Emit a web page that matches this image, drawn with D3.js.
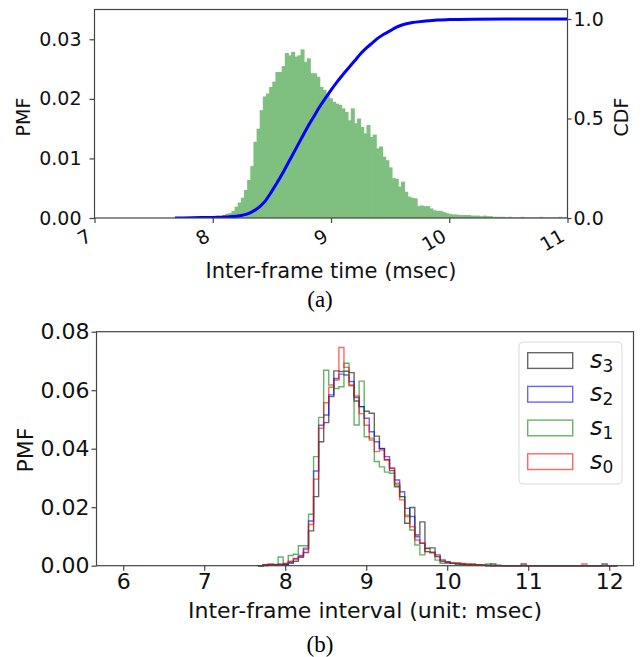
<!DOCTYPE html>
<html>
<head>
<meta charset="utf-8">
<script src="https://cdn.jsdelivr.net/npm/d3@7"></script>
<style>
  body { margin: 0; background: #fff; }
  svg { display: block; font-family: "DejaVu Sans", sans-serif; }
</style>
</head>
<body>
<div class="chart"></div>
<script>
var svgWidth = 643;
var svgHeight = 657;

// ---- (a) inter-frame time PMF + CDF ----
var pmfStart = 7.68;
var pmfBinWidth = 0.02656;
var pmfValues = [
  0, 0.0001, 0, 0.0001, 0.0001, 0.0001, 0.0002, 0.0001, 0.0002, 0.0003,
  0.0002, 0.0003, 0.0002, 0.0004, 0.0003, 0.0005, 0.0007, 0.0008, 0.0012,
  0.0019, 0.0026, 0.0034, 0.0047, 0.0064, 0.0087, 0.0128, 0.0150, 0.0181, 0.0204,
  0.0209, 0.0220, 0.0229, 0.0245, 0.0245, 0.0255, 0.0277, 0.0273, 0.0279, 0.0271,
  0.0273, 0.0283, 0.0262, 0.0268, 0.0243, 0.0243, 0.0237, 0.0220, 0.0215,
  0.0209, 0.0201, 0.0195, 0.0192, 0.0190, 0.0184, 0.0178, 0.0164, 0.0184, 0.0159,
  0.0167, 0.0153, 0.0142, 0.0156, 0.0136, 0.0140, 0.0117, 0.0120, 0.0103, 0.0097,
  0.0085, 0.0067, 0.0066, 0.0053, 0.0061, 0.0044, 0.0036, 0.0034, 0.0033, 0.0020,
  0.0021, 0.0020, 0.0020, 0.0016, 0.0013, 0.0012, 0.0012, 0.0010, 0.0008, 0.0007,
  0.0006, 0.0006, 0.0005, 0.0005, 0.0005, 0.0005,
  0.0004, 0.0004, 0.0004, 0.0003, 0.0004, 0.0003, 0.0003, 0.0002, 0.0002, 0.0002,
  0.0002, 0.0001, 0.0002, 0.0001, 0.0001, 0.0001, 0.0002, 0.0001, 0.0001, 0.0001,
  0.0001, 0.0001, 0.0002, 0.0001, 0.0001, 0.0001, 0.0001, 0.0001, 0.0002, 0.0001, 0.0001
];

var cdfTimes = [7.68, 7.9, 8.1, 8.2, 8.25, 8.3, 8.35, 8.4, 8.45, 8.5, 8.55, 8.6, 8.65, 8.7,
  8.75, 8.8, 8.85, 8.9, 8.95, 9.0, 9.05, 9.1, 9.15, 9.2, 9.25, 9.3, 9.35, 9.4, 9.45,
  9.5, 9.55, 9.6, 9.7, 9.8, 9.9, 10.0, 10.2, 10.5, 11.0];
var cdfValues = [0, 0.002, 0.005, 0.009, 0.014, 0.022, 0.037, 0.058, 0.09, 0.135, 0.183,
  0.235, 0.29, 0.345, 0.40, 0.455, 0.505, 0.555, 0.60, 0.643, 0.683, 0.72, 0.755, 0.79,
  0.825, 0.855, 0.88, 0.905, 0.925, 0.94, 0.958, 0.97, 0.983, 0.99, 0.995, 0.997, 0.999,
  1.0, 1.0];

var topXTicks = [7, 8, 9, 10, 11];
var topPmfTicks = [0, 0.01, 0.02, 0.03];
var topCdfTicks = [0, 0.5, 1.0];

// ---- (b) per-stream inter-frame interval PMF (step histograms) ----
var stepStart = 7.6625;
var stepBinWidth = 0.0625;
var legendNames = ["3", "2", "1", "0"];      // s3, s2, s1, s0
var seriesColors = ["black", "blue", "green", "red"];

var s3Values = [0, 0.0003, 0.0005, 0.0003, 0.0005, 0.0004, 0.0012, 0.0015, 0.003, 0.0045,
  0.0119, 0.0236, 0.0424, 0.0489, 0.0578, 0.0666, 0.0664, 0.0665, 0.066, 0.0563,
  0.0544, 0.0528, 0.0521, 0.0443, 0.040, 0.0362, 0.0325, 0.027, 0.0236, 0.0145,
  0.0199, 0.0105, 0.015, 0.0059, 0.0061, 0.0037, 0.0014, 0.0011, 0.0008, 0.0006,
  0.0005, 0.0004, 0.0005, 0.0003, 0.0002, 0.0002, 0.0006, 0.0002, 0, 0,
  0, 0, 0.0006, 0, 0, 0, 0, 0, 0, 0,
  0, 0, 0, 0, 0, 0, 0, 0, 0.0006, 0, 0];
var s2Values = [0, 0.0002, 0.0003, 0.0004, 0.0004, 0.0003, 0.0008, 0.0025, 0.0035, 0.006,
  0.0153, 0.0324, 0.048, 0.0515, 0.0584, 0.064, 0.0655, 0.0652, 0.063, 0.0575,
  0.0544, 0.0504, 0.0458, 0.0424, 0.0401, 0.0373, 0.0333, 0.0293, 0.0253, 0.0196,
  0.0168, 0.0099, 0.0077, 0.0048, 0.0045, 0.0031, 0.0019, 0.0014, 0.0008, 0.0008,
  0.0005, 0.0004, 0.0003, 0.0002, 0.0001, 0, 0, 0, 0, 0,
  0, 0, 0, 0, 0, 0, 0, 0, 0, 0,
  0, 0, 0, 0, 0, 0, 0, 0, 0, 0, 0];
var s1Values = [0, 0, 0.0002, 0.0003, 0.003, 0.0008, 0.0035, 0.0039, 0.0068, 0.0068,
  0.0176, 0.0373, 0.0507, 0.0668, 0.0618, 0.0606, 0.0612, 0.0692, 0.0615, 0.0481,
  0.0631, 0.0441, 0.0436, 0.0356, 0.0338, 0.032, 0.0316, 0.0276, 0.0236, 0.0173,
  0.0122, 0.0071, 0.0037, 0.006, 0.0045, 0.0019, 0.0008, 0.0008, 0.0008, 0.0006,
  0.0004, 0.0004, 0.0004, 0.0003, 0.0003, 0.0006, 0, 0, 0, 0,
  0, 0, 0, 0, 0, 0, 0, 0, 0, 0,
  0, 0, 0, 0, 0, 0, 0, 0, 0, 0, 0];
var s0Values = [0, 0.0003, 0.0004, 0.0002, 0.0003, 0.0008, 0.0015, 0.0022, 0.003, 0.0055,
  0.0141, 0.0296, 0.047, 0.0557, 0.061, 0.0635, 0.0746, 0.0678, 0.0618, 0.058,
  0.052, 0.048, 0.043, 0.039, 0.0395, 0.0362, 0.0333, 0.0282, 0.0225, 0.0168,
  0.0133, 0.0088, 0.0077, 0.0048, 0.0045, 0.0031, 0.0019, 0.0014, 0.001, 0.001,
  0.0008, 0.0005, 0.0004, 0.0003, 0.0002, 0, 0, 0, 0, 0,
  0, 0, 0, 0, 0, 0, 0, 0, 0, 0,
  0, 0, 0, 0, 0.0006, 0, 0, 0, 0, 0, 0];
var seriesValues = [s3Values, s2Values, s1Values, s0Values];

var bottomXTicks = [6, 7, 8, 9, 10, 11, 12];
var bottomYTicks = [0, 0.02, 0.04, 0.06, 0.08];

var svg = d3.select(".chart")
  .append("svg")
  .attr("width", svgWidth)
  .attr("height", svgHeight);

// =====================  (a)  =====================
var topBox = { left: 94.5, right: 567.5, top: 9.5, bottom: 218 };

var xTop = d3.scaleLinear().domain([7, 11]).range([topBox.left, topBox.right]);
var yPmf = d3.scaleLinear().domain([0, 0.035]).range([topBox.bottom, topBox.top]);
var yCdf = d3.scaleLinear().domain([0, 1.0477]).range([topBox.bottom, topBox.top]);

svg.append("clipPath").attr("id", "clipTop")
  .append("rect")
  .attr("x", topBox.left).attr("y", topBox.top)
  .attr("width", topBox.right - topBox.left).attr("height", topBox.bottom - topBox.top);

var topPlot = svg.append("g").attr("clip-path", "url(#clipTop)");

topPlot.selectAll("rect.bar")
  .data(pmfValues)
  .enter()
  .append("rect")
  .attr("class", "bar")
  .attr("x", (d, i) => xTop(pmfStart + i * pmfBinWidth))
  .attr("width", xTop(pmfStart + pmfBinWidth) - xTop(pmfStart) + 0.9)
  .attr("y", d => yPmf(d))
  .attr("height", d => yPmf(0) - yPmf(d))
  .attr("fill", "#7fbf7f");

var cdfLine = d3.line()
  .x(d => xTop(d[0]))
  .y(d => yCdf(d[1]))
  .curve(d3.curveMonotoneX);

topPlot.append("path")
  .datum(cdfTimes.map((t, i) => [t, cdfValues[i]]))
  .attr("d", cdfLine)
  .attr("fill", "none")
  .attr("stroke", "#0000ff")
  .attr("stroke-width", 3);

// frame
svg.append("rect")
  .attr("x", topBox.left).attr("y", topBox.top)
  .attr("width", topBox.right - topBox.left).attr("height", topBox.bottom - topBox.top)
  .attr("fill", "none").attr("stroke", "#444").attr("stroke-width", 1.2);

function styleAxis(g, size) {
  g.select(".domain").remove();
  g.attr("font-family", "DejaVu Sans, sans-serif").attr("font-size", size);
  g.selectAll("line").attr("stroke", "#444").attr("stroke-width", 1.2);
  g.selectAll("text").attr("fill", "#111");
}

var topLeftAxis = svg.append("g")
  .attr("transform", `translate(${topBox.left},0)`)
  .call(d3.axisLeft(yPmf).tickValues(topPmfTicks).tickFormat(d3.format(".2f"))
    .tickSize(5).tickPadding(8));
styleAxis(topLeftAxis, 19);

var topRightAxis = svg.append("g")
  .attr("transform", `translate(${topBox.right},0)`)
  .call(d3.axisRight(yCdf).tickValues(topCdfTicks).tickFormat(d3.format(".1f"))
    .tickSize(4).tickPadding(2));
styleAxis(topRightAxis, 19);

var topBottomAxis = svg.append("g")
  .attr("transform", `translate(0,${topBox.bottom})`)
  .call(d3.axisBottom(xTop).tickValues(topXTicks).tickFormat(d3.format("d")).tickSize(5));
styleAxis(topBottomAxis, 19);
topBottomAxis.selectAll("text")
  .attr("y", 0).attr("dy", 0)
  .attr("transform", "translate(-2,22) rotate(-30)")
  .style("text-anchor", "end");

svg.append("text")
  .attr("transform", "translate(30,117) rotate(-90)")
  .attr("text-anchor", "middle")
  .attr("font-size", 19)
  .attr("fill", "#111")
  .text("PMF");

svg.append("text")
  .attr("transform", "translate(628,117) rotate(-90)")
  .attr("text-anchor", "middle")
  .attr("font-size", 19)
  .attr("fill", "#111")
  .text("CDF");

svg.append("text")
  .attr("x", (topBox.left + topBox.right) / 2)
  .attr("y", 278)
  .attr("text-anchor", "middle")
  .attr("font-size", 21)
  .attr("fill", "#111")
  .text("Inter-frame time (msec)");

svg.append("text")
  .attr("x", 320).attr("y", 307)
  .attr("text-anchor", "middle")
  .attr("font-family", "Liberation Serif, serif")
  .attr("font-size", 23)
  .text("(a)");

// =====================  (b)  =====================
var botBox = { left: 96.5, right: 633.5, top: 331.7, bottom: 565.7 };

var xBot = d3.scaleLinear().domain([5.67, 12.3]).range([botBox.left, botBox.right]);
var yBot = d3.scaleLinear().domain([0, 0.08]).range([botBox.bottom, botBox.top]);

var stepLine = d3.line()
  .x(d => xBot(d[0]))
  .y(d => yBot(d[1]))
  .curve(d3.curveStepAfter);

function stepPoints(values) {
  var pts = [[stepStart, 0]];
  values.forEach(function(v, i) { pts.push([stepStart + i * stepBinWidth, v]); });
  var end = stepStart + values.length * stepBinWidth;
  pts.push([end, values[values.length - 1]]);
  pts.push([end, 0]);
  return pts;
}

svg.selectAll("path.step")
  .data(seriesValues)
  .enter()
  .append("path")
  .attr("class", "step")
  .attr("d", d => stepLine(stepPoints(d)))
  .attr("fill", "none")
  .attr("stroke", (d, i) => seriesColors[i])
  .attr("stroke-opacity", 0.6)
  .attr("stroke-width", 1.4);

svg.append("rect")
  .attr("x", botBox.left).attr("y", botBox.top)
  .attr("width", botBox.right - botBox.left).attr("height", botBox.bottom - botBox.top)
  .attr("fill", "none").attr("stroke", "#444").attr("stroke-width", 1.2);

var botLeftAxis = svg.append("g")
  .attr("transform", `translate(${botBox.left},0)`)
  .call(d3.axisLeft(yBot).tickValues(bottomYTicks).tickFormat(d3.format(".2f"))
    .tickSize(5).tickPadding(2));
styleAxis(botLeftAxis, 22);

var botBottomAxis = svg.append("g")
  .attr("transform", `translate(0,${botBox.bottom})`)
  .call(d3.axisBottom(xBot).tickValues(bottomXTicks).tickFormat(d3.format("d"))
    .tickSize(5).tickPadding(3));
styleAxis(botBottomAxis, 22);

svg.append("text")
  .attr("transform", "translate(33,450) rotate(-90)")
  .attr("text-anchor", "middle")
  .attr("font-size", 22)
  .attr("fill", "#111")
  .text("PMF");

svg.append("text")
  .attr("x", (botBox.left + botBox.right) / 2)
  .attr("y", 618)
  .attr("text-anchor", "middle")
  .attr("font-size", 22)
  .attr("fill", "#111")
  .text("Inter-frame interval (unit: msec)");

svg.append("text")
  .attr("x", 320).attr("y", 652)
  .attr("text-anchor", "middle")
  .attr("font-family", "Liberation Serif, serif")
  .attr("font-size", 23)
  .text("(b)");

// legend
var legend = svg.append("g").attr("transform", "translate(519,342)");
legend.append("rect")
  .attr("width", 103).attr("height", 142)
  .attr("rx", 4)
  .attr("fill", "white").attr("fill-opacity", 0.8)
  .attr("stroke", "#d9d9d9");

var legendRows = legend.selectAll("g.row")
  .data(legendNames)
  .enter()
  .append("g")
  .attr("class", "row")
  .attr("transform", (d, i) => `translate(0,${10.7 + i * 33.7})`);

legendRows.append("rect")
  .attr("x", 8.7).attr("width", 45).attr("height", 15.7)
  .attr("fill", "none")
  .attr("stroke", (d, i) => seriesColors[i])
  .attr("stroke-opacity", 0.6)
  .attr("stroke-width", 1.4);

var legendText = legendRows.append("text")
  .attr("x", 71).attr("y", 15)
  .attr("font-size", 24)
  .attr("fill", "#111");
legendText.append("tspan").attr("font-style", "italic").text("s");
legendText.append("tspan").attr("font-size", 17).attr("dy", 4).text(d => d);
</script>
</body>
</html>
